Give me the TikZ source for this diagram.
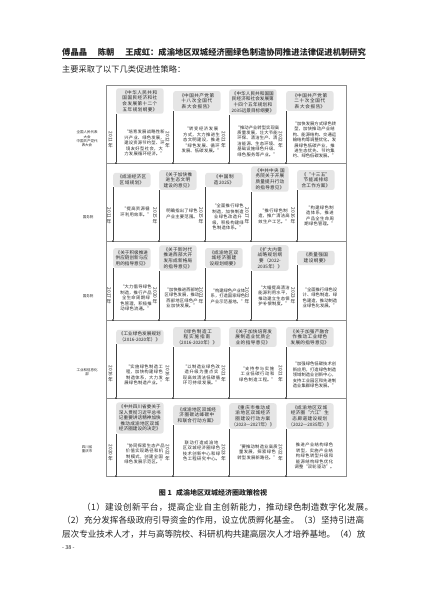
\documentclass[tikz,border=0pt]{standalone}
\usepackage{fontspec}
\usepackage{graphicx}
\setmainfont{Noto Sans CJK SC}
\XeTeXlinebreaklocale "zh"
\XeTeXlinebreakskip=0pt plus 1pt

\begin{document}
\begin{tikzpicture}[x=1pt, y=-1pt, color=black!85,
    titolo/.style={fill=black!10, rounded corners=2.5pt, anchor=west, inner sep=2.2pt,
        text width=#1, align=center, font=\fontsize{4.6}{5.6}\selectfont},
    citazione/.style={text width=#1, align=center, inner sep=0pt,
        font=\fontsize{4.3}{5.4}\selectfont},
    anno/.style={align=center, inner sep=0pt, font=\fontsize{4.8}{5.2}\selectfont},
    ente/.style={align=center, inner sep=0pt, font=\fontsize{3.5}{4.3}\selectfont},
    punto/.style={circle, fill=black, inner sep=0pt, minimum size=1.8pt},
    linea/.style={draw=black!75, line width=0.45pt},
    cornice/.style={draw=black!45, line width=0.5pt},
    corpo/.style={anchor=west, inner sep=0pt, font=\fontsize{8.6}{10}\selectfont}]

    % Pagina
    \useasboundingbox[fill=white] (0,0) rectangle (427,603);

    % Testatina
    \node[anchor=west, inner sep=0pt, font=\bfseries\fontsize{8.3}{9}\selectfont] (testa) at (62,52)
        {傅晶晶\hspace{1.3em}陈朝\hspace{1.3em}王成虹：成渝地区双城经济圈绿色制造协同推进法律促进机制研究};
    \draw[line width=1pt] (62,58.5) -- (365,58.5);
    \node[corpo, font=\fontsize{8.2}{10}\selectfont] (intro) at (62,69) {主要采取了以下几类促进性策略：};

    % Cornice della figura e divisione delle righe
    \draw[cornice] (106,85) rectangle (346,476);
    \draw[cornice] (106,163) -- (346,163);
    \draw[cornice] (106,241) -- (346,241);
    \draw[cornice] (106,320) -- (346,320);
    \draw[cornice] (106,398) -- (346,398);

    % Enti a sinistra
    \node[ente] (e1) at (87,139) {全国人民代表\\大会\\中国共产党代\\表大会};
    \node[ente] (e2) at (88,217) {国务院};
    \node[ente] (e3) at (88,296) {国务院};
    \node[ente] (e4) at (87,372) {工业和信息化\\部};
    \node[ente] (e5) at (87,449) {四川省\\重庆市};

    % Riga 1: congressi
    \node[titolo=43pt] (t11) at (116,101) {《中华人民共和国国民经济和社会发展第十二个五年规划纲要》};
    \node[titolo=43pt] (t12) at (173,101) {《中国共产党第十八次全国代表大会报告》};
    \node[titolo=43pt] (t13) at (229,102) {《中华人民共和国国民经济和社会发展第十四个五年规划和2035远景目标纲要》};
    \node[titolo=43pt] (t14) at (286,101) {《中国共产党第二十次全国代表大会报告》};
    \node[anno] (a11) at (110.5,140) {\rotatebox{-90}{2011}\\年};
    \node[anno] (a12) at (167.5,140) {\rotatebox{-90}{2012}\\年};
    \node[anno] (a13) at (223.5,140) {\rotatebox{-90}{2021}\\年};
    \node[anno] (a14) at (280.5,140) {\rotatebox{-90}{2022}\\年};
    \node[citazione=44pt] (c11) at (144.5,143) {“培育发展战略性新兴产业、绿色发展，建设资源节约型、环境友好型社会，大力发展循环经济。”};
    \node[citazione=44pt] (c12) at (201.5,140) {“转变经济发展方式，大力推进生态文明建设，推进“绿色发展、循环发展、低碳发展。”};
    \node[citazione=44pt] (c13) at (257.5,141) {“推动产业转型实现高质量发展，壮大节能环保、清洁生产、清洁能源、生态环境、基础设施绿色升级、绿色服务等产业。”};
    \node[citazione=44pt] (c14) at (314.5,140) {“加快发展方式绿色转型，加快推动产业结构、能源结构、交通运输结构等调整优化。发展绿色低碳产业，推进生态优先、节约集约、绿色低碳发展。”};
    \node[punto] (d11) at (116,163) {};
    \node[punto] (d12) at (173,163) {};
    \node[punto] (d13) at (229,163) {};
    \node[punto] (d14) at (286,163) {};
    \draw[linea] (t11.south west) -- (d11);
    \draw[linea] (t12.south west) -- (d12);
    \draw[linea] (t13.south west) -- (d13);
    \draw[linea] (t14.south west) -- (d14);

    % Riga 2: Consiglio di Stato
    \node[titolo=33pt] (t21) at (113,180) {《成渝经济区区域规划》};
    \node[titolo=33pt] (t22) at (159,180) {《关于加快推进生态文明建设的意见》};
    \node[titolo=33pt] (t23) at (205,180) {《中国制造2025》};
    \node[titolo=33pt] (t24) at (251,179) {《中共中央 国务院关于开展质量提升行动的指导意见》};
    \node[titolo=33pt] (t25) at (297,180) {《“十三五”节能减排综合工作方案》};
    \node[anno] (a21) at (109,216) {\rotatebox{-90}{2011}\\年};
    \node[anno] (a22) at (155,216) {\rotatebox{-90}{2015}\\年};
    \node[anno] (a23) at (201,216) {\rotatebox{-90}{2015}\\年};
    \node[anno] (a24) at (247,216) {\rotatebox{-90}{2017}\\年};
    \node[anno] (a25) at (293,216) {\rotatebox{-90}{2016}\\年};
    \node[citazione=35pt] (c21) at (136,212) {“提高资源循环利用效率。”};
    \node[citazione=35pt] (c22) at (182,214) {明确指出了绿色产业主要范围。};
    \node[citazione=35pt] (c23) at (228,217) {“全面推行绿色制造，加快制造业绿色改造升级，积极构建绿色制造体系。”};
    \node[citazione=35pt] (c24) at (274,216) {“推行绿色制造，推广清洁高效生产工艺。”};
    \node[citazione=35pt] (c25) at (320,216) {“构建绿色制造体系，推进产品全生命周期绿色管理。”};
    \node[punto] (d21) at (113,241) {};
    \node[punto] (d22) at (159,241) {};
    \node[punto] (d23) at (205,241) {};
    \node[punto] (d24) at (251,241) {};
    \node[punto] (d25) at (297,241) {};
    \draw[linea] (t21.south west) -- (d21);
    \draw[linea] (t22.south west) -- (d22);
    \draw[linea] (t23.south west) -- (d23);
    \draw[linea] (t24.south west) -- (d24);
    \draw[linea] (t25.south west) -- (d25);

    % Riga 3: Consiglio di Stato
    \node[titolo=33pt] (t31) at (113,258) {《关于积极推进供应链创新与应用的指导意见》};
    \node[titolo=33pt] (t32) at (159,258) {《关于新时代推进西部大开发形成新格局的指导意见》};
    \node[titolo=33pt] (t33) at (205,258) {《成渝地区双城经济圈建设规划纲要》};
    \node[titolo=33pt] (t34) at (251,258) {《扩大内需战略规划纲要（2022-2035年）》};
    \node[titolo=33pt] (t35) at (297,258) {《质量强国建设纲要》};
    \node[anno] (a31) at (109,296) {\rotatebox{-90}{2017}\\年};
    \node[anno] (a32) at (155,296) {\rotatebox{-90}{2020}\\年};
    \node[anno] (a33) at (201,296) {\rotatebox{-90}{2021}\\年};
    \node[anno] (a34) at (247,296) {\rotatebox{-90}{2022}\\年};
    \node[anno] (a35) at (293,296) {\rotatebox{-90}{2023}\\年};
    \node[citazione=35pt] (c31) at (136,298) {“大力倡导绿色制造，推行产品全生命周期绿色管理，积极推动绿色流通。”};
    \node[citazione=35pt] (c32) at (182,298) {“加快推进西部地区绿色发展，推动西部地区绿色产业加快发展。”};
    \node[citazione=35pt] (c33) at (228,296) {“构建绿色产业体系，打造国家绿色产业示范基地。”};
    \node[citazione=35pt] (c34) at (274,296) {“大幅提高清洁能源利用水平，推动建立生态保护补偿制度。”};
    \node[citazione=35pt] (c35) at (320,298) {“全面推行绿色设计、绿色制造、绿色建造，推动制造业绿色化发展。”};
    \node[punto] (d31) at (113,320) {};
    \node[punto] (d32) at (159,320) {};
    \node[punto] (d33) at (205,320) {};
    \node[punto] (d34) at (251,320) {};
    \node[punto] (d35) at (297,320) {};
    \draw[linea] (t31.south west) -- (d31);
    \draw[linea] (t32.south west) -- (d32);
    \draw[linea] (t33.south west) -- (d33);
    \draw[linea] (t34.south west) -- (d34);
    \draw[linea] (t35.south west) -- (d35);

    % Riga 4: Ministero dell'industria
    \node[titolo=43pt] (t41) at (116,337) {《工业绿色发展规划（2016-2020年）》};
    \node[titolo=43pt] (t42) at (173,337) {《绿色制造工程实施指南（2016-2020年）》};
    \node[titolo=43pt] (t43) at (229,337) {《关于加快培育发展制造业优质企业的指导意见》};
    \node[titolo=43pt] (t44) at (286,337) {《关于加强产融合作推动工业绿色发展的指导意见》};
    \node[anno] (a41) at (110.5,374) {\rotatebox{-90}{2016}\\年};
    \node[anno] (a42) at (167.5,374) {\rotatebox{-90}{2016}\\年};
    \node[anno] (a43) at (223.5,374) {\rotatebox{-90}{2021}\\年};
    \node[anno] (a44) at (280.5,374) {\rotatebox{-90}{2021}\\年};
    \node[citazione=44pt] (c41) at (144.5,375) {“实施绿色制造工程，加快构建绿色制造体系，大力发展绿色制造产业。”};
    \node[citazione=44pt] (c42) at (201.5,375) {“以制造业绿色改造升级为重点实现高效清洁低碳循环可持续发展。”};
    \node[citazione=44pt] (c43) at (257.5,374) {“支持参与实施工业低碳行动和绿色制造工程。”};
    \node[citazione=44pt] (c44) at (314.5,375) {“加强绿色低碳技术创新应用，打造绿色制造领域制造业创新中心，支持工业园区和先进制造业集群绿色发展。”};
    \node[punto] (d41) at (116,398) {};
    \node[punto] (d42) at (173,398) {};
    \node[punto] (d43) at (229,398) {};
    \node[punto] (d44) at (286,398) {};
    \draw[linea] (t41.south west) -- (d41);
    \draw[linea] (t42.south west) -- (d42);
    \draw[linea] (t43.south west) -- (d43);
    \draw[linea] (t44.south west) -- (d44);

    % Riga 5: Sichuan e Chongqing
    \node[titolo=43pt] (t51) at (116,418) {《中共四川省委关于深入贯彻习近平总书记重要讲话精神加快推动成渝地区双城经济圈建设的决定》};
    \node[titolo=43pt] (t52) at (173,415) {《成渝地区双城经济圈碳达峰碳中和联合行动方案》};
    \node[titolo=43pt] (t53) at (229,416) {《重庆市推动成渝地区双城经济圈建设行动方案（2023—2027年）》};
    \node[titolo=43pt] (t54) at (286,416) {《成渝地区双城经济圈“六江”生态廊道建设规划（2022—2035年）》};
    \node[anno] (a51) at (110.5,453) {\rotatebox{-90}{2020}\\年};
    \node[anno] (a52) at (167.5,453) {\rotatebox{-90}{2022}\\年};
    \node[anno] (a53) at (223.5,453) {\rotatebox{-90}{2023}\\年};
    \node[anno] (a54) at (280.5,453) {\rotatebox{-90}{2022}\\年};
    \node[citazione=44pt] (c51) at (144.5,454) {“协同探索生态产品价值实现路径和机制模式，创建全国绿色发展示范区。”};
    \node[citazione=44pt] (c52) at (201.5,451) {联动打造成渝地区双城经济圈绿色技术创新中心和绿色工程研究中心。};
    \node[citazione=44pt] (c53) at (257.5,452) {“要推动制造业高质量发展，探索绿色转型发展新路径。”};
    \node[citazione=44pt] (c54) at (314.5,456) {推进产业结构绿色转型，实施产业结构绿色转型升级和能源结构绿色优化调整“双轮驱动”。};
    \node[punto] (d51) at (116,476) {};
    \node[punto] (d52) at (173,476) {};
    \node[punto] (d53) at (229,476) {};
    \node[punto] (d54) at (286,476) {};
    \draw[linea] (t51.south west) -- (d51);
    \draw[linea] (t52.south west) -- (d52);
    \draw[linea] (t53.south west) -- (d53);
    \draw[linea] (t54.south west) -- (d54);

    % Didascalia e testo
    \node[font=\bfseries\fontsize{7}{8}\selectfont] (dida) at (213,493) {图 1\hspace{0.6em}成渝地区双城经济圈政策检视};
    \node[corpo] (p1) at (82,507) {\addfontfeatures{LetterSpace=4}（1）建设创新平台，提高企业自主创新能力，推动绿色制造数字化发展。};
    \node[corpo] (p2) at (62,520.5) {（2）充分发挥各级政府引导资金的作用，设立优质孵化基金。（3）坚持引进高};
    \node[corpo] (p3) at (62,534) {\addfontfeatures{LetterSpace=-0.8}层次专业技术人才，并与高等院校、科研机构共建高层次人才培养基地。（4）放};
    \node[anchor=west, inner sep=0pt, font=\fontsize{5.5}{6}\selectfont] (pag) at (62,548) {- 38 -};

\end{tikzpicture}
\end{document}
